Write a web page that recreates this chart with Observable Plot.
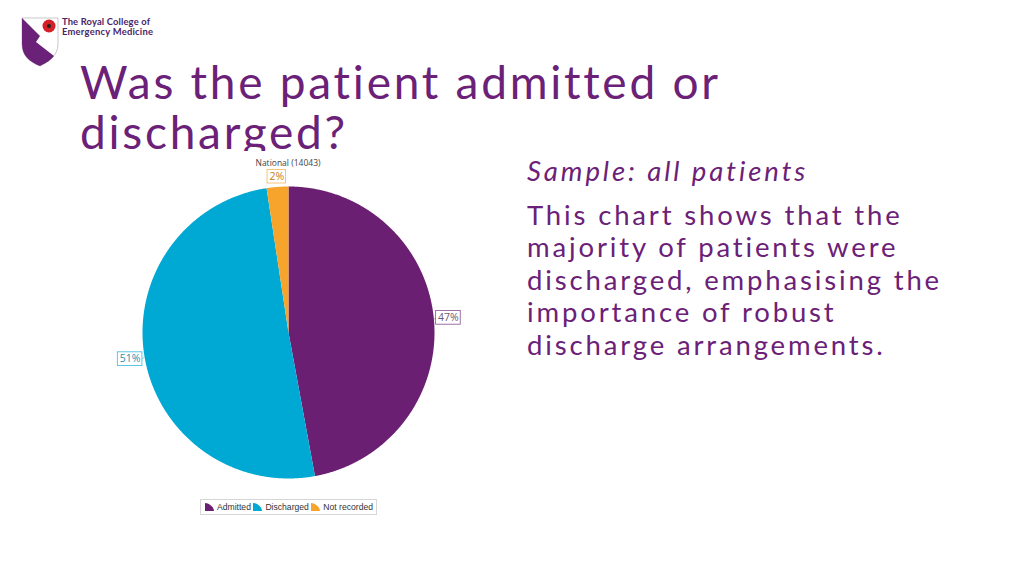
<!DOCTYPE html>
<html><head><meta charset="utf-8">
<script src="https://cdn.jsdelivr.net/npm/d3@7"></script>
<script src="https://cdn.jsdelivr.net/npm/@observablehq/plot@0.6"></script>
<style>
html,body{margin:0;padding:0;background:#fff;width:1024px;height:576px;overflow:hidden;position:relative;font-family:Lato,"Open Sans",sans-serif;}
#title{position:absolute;left:80px;top:57px;font-size:46px;line-height:50px;color:#6b2177;font-family:Lato,sans-serif;white-space:nowrap;}
#title span{display:inline-block;}
#chart{position:absolute;left:100px;top:151px;background:#fff;}
#side{position:absolute;left:527px;top:155px;color:#6b2177;font-size:27.5px;line-height:32.5px;font-family:Lato,sans-serif;white-space:nowrap;}
#side span, #side i{display:inline-block;}
#legend{position:absolute;left:200px;top:499px;height:14px;width:168px;border:1px solid #d6d6d6;font-family:"Liberation Sans",Arial,sans-serif;font-size:8.6px;color:#333;display:flex;align-items:center;justify-content:space-between;padding:0 3px 0 4px;box-sizing:content-box;}
#legend span{display:inline-flex;align-items:center;gap:3px;}
#ctitle{position:absolute;left:200px;width:176px;top:157.5px;text-align:center;font-family:"Open Sans",sans-serif;font-size:8.5px;line-height:9px;color:#444;}
#logo{position:absolute;left:18px;top:14px;}
</style></head>
<body>
<svg id="logo" width="160" height="56" viewBox="0 0 160 56">
  <path d="M4,4 L40,4 L40,30 C40,42 30,48 22,52 C12,48 4,42 4,30 Z" fill="#fff" stroke="#bbb" stroke-width="0.8"/>
  <path d="M4,4 L4,30 C4,42 12,48 22,52 C28,49 33,46 36,42 L18,28 L22,22 Z" fill="#6b2177"/>
  <circle cx="31" cy="12" r="6.5" fill="#d42027"/>
  <circle cx="31" cy="12" r="2" fill="#222"/>
  <text x="44" y="11" font-family="Lato,sans-serif" font-weight="700" font-size="9.4" fill="#4b2466" textLength="88">The Royal College of</text>
  <text x="44" y="20.5" font-family="Lato,sans-serif" font-weight="700" font-size="9.4" fill="#4b2466" textLength="91">Emergency Medicine</text>
</svg>
<div id="title"><span id="t1">Was the patient admitted or</span><br><span id="t2">discharged?</span></div>
<div id="chart"></div>
<div id="ctitle">National (14043)</div>
<div id="side"><i id="s0">Sample: all patients</i><div id="body" style="margin-top:11px"><span id="s1">This chart shows that the</span><br><span>majority of patients were</span><br><span id="s3">discharged, emphasising the</span><br><span>importance of robust</span><br><span>discharge arrangements.</span></div></div>
<div id="legend"></div>
<script>
const categories = ["Admitted", "Discharged", "Not recorded"];
const values = [47.1, 50.5, 2.4];
const labels = ["47%", "51%", "2%"];
const colors = ["#6b1f73", "#00a9d4", "#f7a42c"];
const textColors = ["#6b5a70", "#2a8fb0", "#c87d10"];

// approximate the wide geometric headline face by fitting letter-spacing
function fit(el, target, scope) {
  const w = el.getBoundingClientRect().width;
  const n = el.textContent.length;
  (scope || el).style.letterSpacing = ((target - w) / n) + "px";
}
fit(document.getElementById("t1"), 640, document.getElementById("title"));
fit(document.getElementById("s3"), 415, document.getElementById("body"));
fit(document.getElementById("s0"), 281);

const pie = d3.pie().sort(null).value(d => d.value)(categories.map((c, i) => ({cat: c, value: values[i], label: labels[i], i})));
const pts = [];
for (const s of pie) {
  pts.push({cat: s.data.cat, x: 0, y: 0});
  const n = Math.max(4, Math.ceil((s.endAngle - s.startAngle) / 0.005));
  for (let k = 0; k <= n; k++) {
    const a = s.startAngle + (s.endAngle - s.startAngle) * k / n;
    pts.push({cat: s.data.cat, x: Math.sin(a), y: Math.cos(a)});
  }
  pts.push({cat: s.data.cat, x: 0, y: 0});
}
const lab = pie.map(s => {
  const a = (s.startAngle + s.endAngle) / 2;
  const r = s.data.value < 5 ? 1.07 : 1.1;
  const w = (s.data.label.length * 6.2 + 6) / 146 / 2;
  return {cat: s.data.cat, label: s.data.label, i: s.data.i, x: Math.sin(a) * r, y: Math.cos(a) * r, w, h: 6.8 / 146,
    ex: Math.sin(a), ey: Math.cos(a)};
});
const leaders = lab.filter(d => d.label !== "2%").map(d => ({...d, x2: d.x + (d.x > 0 ? -d.w : d.w), y2: d.y}));

const chart = Plot.plot({
  width: 380, height: 340,
  marginLeft: 42, marginRight: 46, marginTop: 35, marginBottom: 13,
  x: {domain: [-1, 1], axis: null},
  y: {domain: [-1, 1], axis: null},
  color: {domain: categories, range: colors},
  marks: [
    Plot.line(pts, {x: "x", y: "y", z: "cat", fill: "cat", stroke: null, curve: "linear"}),
    Plot.link(leaders, {x1: "ex", y1: "ey", x2: "x2", y2: "y2", stroke: d => colors[d.i], strokeWidth: 0.7, strokeOpacity: 0.7}),
    Plot.rect(lab, {x1: d => d.x - d.w, x2: d => d.x + d.w, y1: d => d.y - d.h, y2: d => d.y + d.h, fill: "#fff", stroke: d => colors[d.i], strokeWidth: 0.8, strokeOpacity: 0.8}),
    Plot.text(lab, {x: "x", y: "y", text: "label", fill: d => textColors[d.i], fontSize: 10.5, fontFamily: "Open Sans, sans-serif"})
  ]
});
document.getElementById("chart").appendChild(chart);

const lg = document.getElementById("legend");
categories.forEach((c, i) => {
  const s = document.createElement("span");
  s.innerHTML = `<svg width="9" height="8"><path d="M0,8 L0,0 C4,0 9,4 9,8 Z" fill="${colors[i]}"/></svg>${c}`;
  lg.appendChild(s);
});
</script>
</body></html>
